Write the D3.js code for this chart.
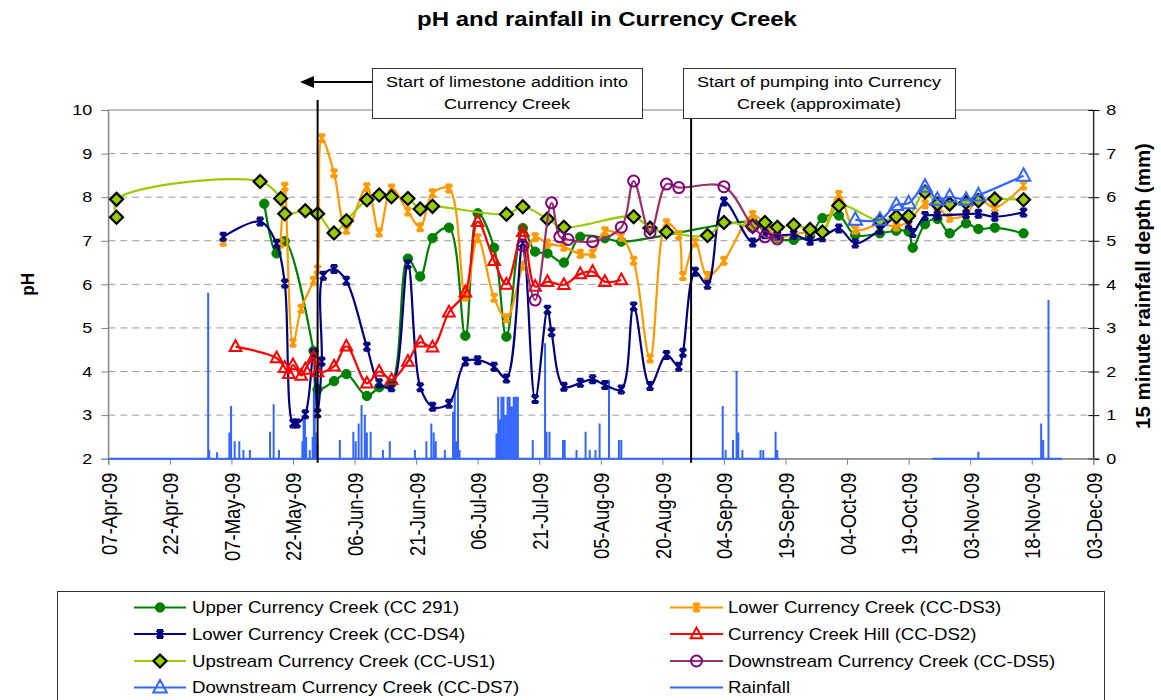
<!DOCTYPE html>
<html>
<head>
<meta charset="utf-8">
<script src="https://cdn.jsdelivr.net/npm/d3@7"></script>
<style>
  body { margin: 0; background: #fff; }
  svg text { font-family: "Liberation Sans", Arial, sans-serif; fill: #000; }
</style>
</head>
<body>
<svg id="chart" width="1161" height="700"></svg>
<script>
// ---- Axis ticks ----
const dateTicks = ["07-Apr-09","22-Apr-09","07-May-09","22-May-09","06-Jun-09","21-Jun-09","06-Jul-09",
  "21-Jul-09","05-Aug-09","20-Aug-09","04-Sep-09","19-Sep-09","04-Oct-09","19-Oct-09","03-Nov-09",
  "18-Nov-09","03-Dec-09"];
const phTicks = [2,3,4,5,6,7,8,9,10];
const rainTicks = [0,1,2,3,4,5,6,7,8];

// ---- pH series: [date, pH]; null marks a break in sampling ----
const upperCC291 = [
  ["2009-05-15",7.85],["2009-05-18",6.71],["2009-05-20",6.99],["2009-05-27",4.47],["2009-05-28",3.59],
  ["2009-06-01",3.78],["2009-06-04",3.94],["2009-06-09",3.44],["2009-06-12",3.64],["2009-06-15",3.72],
  ["2009-06-19",6.59],["2009-06-22",6.18],["2009-06-25",7.06],["2009-06-29",7.30],["2009-07-03",4.82],
  ["2009-07-06",7.63],["2009-07-10",6.84],["2009-07-13",4.80],["2009-07-17",7.29],["2009-07-20",6.75],
  ["2009-07-23",6.71],["2009-07-27",6.50],["2009-07-31",7.09],["2009-08-06",7.06],["2009-08-10",6.98],
  ["2009-09-11",7.44],["2009-09-14",7.32],["2009-09-17",7.06],["2009-09-21",7.02],["2009-09-25",7.12],
  ["2009-09-28",7.52],["2009-10-02",7.58],["2009-10-06",7.13],["2009-10-12",7.17],["2009-10-16",7.23],
  ["2009-10-19",7.21],["2009-10-20",6.84],["2009-10-23",7.38],["2009-10-26",7.50],["2009-10-29",7.17],
  ["2009-11-02",7.40],["2009-11-05",7.27],["2009-11-09",7.30],["2009-11-16",7.17]
];
const lowerDS3 = [
  ["2009-05-05",6.98],["2009-05-12",null],
  ["2009-05-19",6.94],["2009-05-20",8.24],["2009-05-22",4.66],["2009-05-24",5.44],["2009-05-27",6.08],
  ["2009-05-28",6.34],["2009-05-29",9.35],["2009-06-01",8.55],["2009-06-04",7.25],["2009-06-09",8.23],
  ["2009-06-12",7.19],["2009-06-15",8.20],["2009-06-19",7.67],["2009-06-22",7.31],["2009-06-25",8.09],
  ["2009-06-29",8.20],["2009-07-03",5.72],["2009-07-06",7.06],["2009-07-10",5.69],["2009-07-13",5.22],
  ["2009-07-17",6.43],["2009-07-20",7.08],["2009-07-23",6.94],["2009-07-27",6.86],["2009-07-31",6.70],
  ["2009-08-03",6.71],["2009-08-06",7.22],["2009-08-10",7.09],["2009-08-13",6.54],["2009-08-17",4.30],
  ["2009-08-21",7.40],["2009-08-24",7.13],["2009-08-25",6.19],["2009-08-28",6.96],["2009-08-31",6.19],
  ["2009-09-04",6.54],["2009-09-11",7.59],["2009-09-14",7.38],["2009-09-17",7.09],["2009-09-21",7.15],
  ["2009-09-25",7.20],["2009-09-28",7.21],["2009-10-02",8.05],["2009-10-06",7.25],["2009-10-12",7.38],
  ["2009-10-16",7.33],["2009-10-19",7.45],["2009-10-23",7.84],["2009-10-26",7.78],["2009-10-29",7.53],
  ["2009-11-02",7.60],["2009-11-05",7.97],["2009-11-09",7.76],["2009-11-16",8.27]
];
const lowerDS4 = [
  ["2009-05-05",7.09],["2009-05-14",7.44],["2009-05-18",6.93],["2009-05-20",6.02],["2009-05-22",2.81],
  ["2009-05-23",2.81],["2009-05-25",3.02],["2009-05-27",4.42],["2009-05-28",3.04],["2009-05-29T00:00",4.23],
  ["2009-05-29T09:00",6.20],["2009-06-01",6.35],["2009-06-04",6.08],["2009-06-09",4.57],["2009-06-12",3.73],
  ["2009-06-15",3.64],["2009-06-19",6.46],["2009-06-22",3.64],["2009-06-25",3.19],["2009-06-29",3.26],
  ["2009-07-03",4.23],["2009-07-06",4.26],["2009-07-10",4.11],["2009-07-13",3.84],["2009-07-17",6.94],
  ["2009-07-20",3.37],["2009-07-23",5.42],["2009-07-24",4.90],["2009-07-27",3.65],["2009-07-31",3.74],
  ["2009-08-03",3.82],["2009-08-06",3.69],["2009-08-10",3.59],["2009-08-13",5.49],["2009-08-17",3.67],
  ["2009-08-21",4.38],["2009-08-24",4.11],["2009-08-25",4.43],["2009-08-28",6.29],["2009-08-31",5.99],
  ["2009-09-04",7.90],["2009-09-11",6.96],["2009-09-14",7.15],["2009-09-17",7.12],["2009-09-21",7.14],
  ["2009-09-25",7.00],["2009-09-28",7.08],["2009-10-02",7.28],["2009-10-06",6.94],["2009-10-12",7.25],
  ["2009-10-16",7.55],["2009-10-19",7.38],["2009-10-20",7.18],["2009-10-23",7.57],["2009-10-26",7.58],
  ["2009-11-02",7.61],["2009-11-05",7.62],["2009-11-09",7.55],["2009-11-16",7.65]
];
const hillDS2 = [
  ["2009-05-08",4.57],["2009-05-18",4.31],["2009-05-20",4.09],["2009-05-21",3.95],["2009-05-22",4.15],
  ["2009-05-24",3.91],["2009-05-25",4.05],["2009-05-27",4.32],["2009-05-28",3.99],["2009-06-01",4.12],
  ["2009-06-04",4.58],["2009-06-09",3.73],["2009-06-12",4.00],["2009-06-15",3.81],["2009-06-19",4.23],
  ["2009-06-22",4.67],["2009-06-25",4.56],["2009-06-29",5.36],["2009-07-03",5.82],["2009-07-06",7.44],
  ["2009-07-10",6.54],["2009-07-13",6.00],["2009-07-17",7.21],["2009-07-20",5.95],["2009-07-23",6.06],
  ["2009-07-27",5.99],["2009-07-31",6.24],["2009-08-03",6.29],["2009-08-06",6.06],["2009-08-10",6.10]
];
const upstreamUS1 = [
  ["2009-04-09",7.54],["2009-04-09",7.95],["2009-05-14",8.36],["2009-05-19",7.97],["2009-05-20",7.62],
  ["2009-05-25",7.69],["2009-05-28",7.62],["2009-06-01",7.18],["2009-06-04",7.46],["2009-06-09",7.94],
  ["2009-06-12",8.05],["2009-06-15",8.01],["2009-06-19",7.97],["2009-06-22",7.73],["2009-06-25",7.79],
  ["2009-07-13",7.61],["2009-07-17",7.78],["2009-07-23",7.50],["2009-07-27",7.31],["2009-08-13",7.55],
  ["2009-08-17",7.29],["2009-08-21",7.20],["2009-08-31",7.12],["2009-09-04",7.42],["2009-09-11",7.33],
  ["2009-09-14",7.42],["2009-09-17",7.31],["2009-09-21",7.36],["2009-09-25",7.26],["2009-09-28",7.20],
  ["2009-10-02",7.81],["2009-10-12",7.45],["2009-10-16",7.55],["2009-10-19",7.57],["2009-10-23",8.12],
  ["2009-10-26",7.84],["2009-10-29",7.84],["2009-11-02",7.88],["2009-11-05",7.92],["2009-11-09",7.96],
  ["2009-11-16",7.94]
];
const downstreamDS5 = [
  ["2009-07-17",6.89],["2009-07-20",5.64],["2009-07-24",7.87],["2009-07-26",7.09],["2009-07-28",7.03],
  ["2009-08-03",6.98],["2009-08-10",7.31],["2009-08-13",8.37],["2009-08-17",7.19],["2009-08-21",8.30],
  ["2009-08-24",8.22],["2009-09-04",8.24],["2009-09-11",7.33],["2009-09-14",7.09],["2009-09-17",7.04]
];
const downstreamDS7 = [
  ["2009-10-06",7.48],["2009-10-12",7.48],["2009-10-16",7.82],["2009-10-19",7.86],["2009-10-23",8.24],
  ["2009-10-26",7.94],["2009-10-29",8.01],["2009-11-02",7.94],["2009-11-05",8.04],["2009-11-16",8.49]
];

// ---- 15 minute rainfall depth (mm): logged periods and non-zero readings ----
const rainCoverage = [["2009-04-07T00:00","2009-09-17T12:00"],["2009-10-24T19:00","2009-11-25T10:00"]];
const rainfall15min = [
  ["2009-05-01T08:00",3.81],["2009-05-01T14:00",0.20],["2009-05-03T12:00",0.15],["2009-05-06T12:00",0.60],
  ["2009-05-06T22:00",1.21],["2009-05-07T19:00",0.40],["2009-05-08T22:00",0.40],["2009-05-09T22:00",0.20],
  ["2009-05-11T12:00",0.20],["2009-05-16T10:00",0.62],["2009-05-17T07:00",1.25],["2009-05-18T14:00",0.20],
  ["2009-05-24T07:00",0.40],["2009-05-24T14:00",0.89],["2009-05-24T22:00",0.95],["2009-05-25T05:00",0.50],
  ["2009-05-26T02:00",0.20],["2009-05-26T19:00",0.50],["2009-05-27T02:00",1.60],["2009-05-27T07:00",2.26],
  ["2009-05-27T14:00",0.60],["2009-05-28T00:00",0.30],["2009-06-02T10:00",0.43],["2009-06-05T17:00",0.62],
  ["2009-06-06T07:00",0.40],["2009-06-07T00:00",0.81],["2009-06-07T17:00",1.23],["2009-06-08T12:00",1.00],
  ["2009-06-09T00:00",0.60],["2009-06-09T22:00",0.62],["2009-06-12T22:00",0.20],["2009-06-14T14:00",0.40],
  ["2009-06-20T17:00",0.20],["2009-06-23T12:00",0.40],["2009-06-24T17:00",0.81],["2009-06-25T07:00",0.60],
  ["2009-06-25T19:00",0.40],["2009-06-28T00:00",0.20],["2009-06-30T00:00",1.08],["2009-06-30T10:00",1.58],
  ["2009-06-30T19:00",0.40],["2009-07-01T05:00",1.81],["2009-07-01T14:00",0.20],["2009-07-10T14:00",0.58],
  ["2009-07-11T00:00",1.42],["2009-07-11T10:00",0.90],["2009-07-11T19:00",1.42],["2009-07-12T07:00",1.42],
  ["2009-07-12T19:00",1.00],["2009-07-13T07:00",1.42],["2009-07-13T19:00",1.42],["2009-07-14T07:00",1.20],
  ["2009-07-14T19:00",1.42],["2009-07-15T07:00",1.42],["2009-07-15T19:00",1.42],["2009-07-19T10:00",0.43],
  ["2009-07-22T10:00",2.65],["2009-07-22T19:00",0.62],["2009-07-23T12:00",0.62],["2009-07-26T19:00",0.43],
  ["2009-07-27T05:00",0.43],["2009-07-30T02:00",0.20],["2009-08-01T07:00",0.62],["2009-08-02T07:00",0.20],
  ["2009-08-03T17:00",0.20],["2009-08-04T17:00",0.81],["2009-08-07T00:00",1.81],["2009-08-09T10:00",0.43],
  ["2009-08-10T00:00",0.43],["2009-09-03T17:00",1.21],["2009-09-04T10:00",0.20],["2009-09-06T05:00",0.43],
  ["2009-09-07T02:00",2.01],["2009-09-07T12:00",0.60],["2009-09-08T12:00",0.20],["2009-09-12T22:00",0.20],
  ["2009-09-13T14:00",0.20],["2009-09-16T14:00",0.62],["2009-09-17T00:00",0.20],["2009-11-05T00:00",0.16],
  ["2009-11-20T07:00",0.81],["2009-11-20T19:00",0.43],["2009-11-22T02:00",3.64]
];

// ---- Events marked on the chart ----
const eventDates = ["2009-05-28","2009-08-27"];
const eventNotes = [
  ["Start of limestone addition into","Currency Creek"],
  ["Start of pumping into Currency","Creek (approximate)"]
];

// ---------------------------------------------------------------------------
const SX = 1.2; // lettering is drawn slightly wide
const parseDay = d3.timeParse("%Y-%m-%d");
const parseTime = d3.timeParse("%Y-%m-%dT%H:%M");
const toDate = s => parseDay(s) || parseTime(s);
const parseTick = d3.timeParse("%d-%b-%y");
const fmtTick = d3.timeFormat("%d-%b-%y");

const series = [
  {name:"Upper Currency Creek (CC 291)", data:upperCC291, color:"#008000", marker:"circle"},
  {name:"Lower Currency Creek (CC-DS3)", data:lowerDS3, color:"#FF9900", marker:"star"},
  {name:"Lower Currency Creek (CC-DS4)", data:lowerDS4, color:"#000080", marker:"star"},
  {name:"Currency Creek Hill (CC-DS2)", data:hillDS2, color:"#FF0000", marker:"triangle"},
  {name:"Upstream Currency Creek (CC-US1)", data:upstreamUS1, color:"#99CC00", marker:"diamond"},
  {name:"Downstream Currency Creek (CC-DS5)", data:downstreamDS5, color:"#993366", mcolor:"#800080", marker:"ocircle"},
  {name:"Downstream Currency Creek (CC-DS7)", data:downstreamDS7, color:"#3366FF", marker:"otriangle"}
];
const rainColor = "#3366FF";

const svg = d3.select("#chart");
const P = {left:108.3, right:1093.3, top:110, bottom:458.7};

const tickDates = dateTicks.map(parseTick);
const x = d3.scaleTime().domain([tickDates[0], tickDates[tickDates.length-1]]).range([P.left, P.right]);
const y = d3.scaleLinear().domain([phTicks[0], phTicks[phTicks.length-1]]).range([P.bottom, P.top]);
const yR = d3.scaleLinear().domain([rainTicks[0], rainTicks[rainTicks.length-1]]).range([P.bottom, P.top]);

function wideText(g, px, py, str, size, opts = {}) {
  const rot = opts.rotate ? " rotate(-90)" : "";
  const sx = opts.sx || SX;
  return g.append("text")
    .attr("transform", `translate(${px},${py}) scale(${sx},1)${rot}`)
    .attr("text-anchor", opts.anchor || "start")
    .attr("dy", opts.dy || 0)
    .style("font-size", size + "px")
    .style("font-weight", opts.bold ? "bold" : "normal")
    .text(str);
}

// Title
wideText(svg, 607, 26, "pH and rainfall in Currency Creek", 20, {anchor:"middle", bold:true});

// Gridlines
svg.append("g").selectAll("line")
  .data(phTicks.slice(1, -1))
  .join("line")
  .attr("x1", P.left).attr("x2", P.right)
  .attr("y1", d => y(d)).attr("y2", d => y(d))
  .attr("stroke", "#9a9a9a").attr("stroke-width", 1).attr("stroke-dasharray", "7,5");

// Plot frame
svg.append("rect")
  .attr("x", P.left).attr("y", P.top)
  .attr("width", P.right - P.left).attr("height", P.bottom - P.top)
  .attr("fill", "none").attr("stroke", "#808080").attr("stroke-width", 1);

// Left pH axis
const axL = svg.append("g").attr("transform", `translate(${P.left},0)`)
  .call(d3.axisLeft(y).tickValues(phTicks).tickSize(7).tickFormat(d3.format("d")));
axL.select(".domain").attr("stroke", "#808080");
axL.selectAll(".tick line").attr("stroke", "#808080");
axL.selectAll(".tick text")
  .attr("x", -16 / SX).attr("transform", `scale(${SX},1)`)
  .style("font-size", "15px").attr("font-family", null);

// Right rainfall axis
const axR = svg.append("g").attr("transform", `translate(${P.right},0)`)
  .call(d3.axisRight(yR).tickValues(rainTicks).tickSize(6).tickFormat(d3.format("d")));
axR.select(".domain").attr("stroke", "#000");
axR.selectAll(".tick line").attr("x1", -5).attr("stroke", "#000");
axR.selectAll(".tick text")
  .attr("x", 13 / SX).attr("transform", `scale(${SX},1)`)
  .style("font-size", "15px").attr("font-family", null);

// Date axis
const axB = svg.append("g").attr("transform", `translate(0,${P.bottom})`)
  .call(d3.axisBottom(x).tickValues(tickDates).tickSize(6).tickFormat(fmtTick));
axB.select(".domain").attr("stroke", "#808080");
axB.selectAll(".tick line").attr("stroke", "#808080");
axB.selectAll(".tick text")
  .attr("transform", `scale(${SX},1) rotate(-90)`)
  .attr("x", -14).attr("y", 0).attr("dy", "0.36em")
  .attr("text-anchor", "end")
  .style("font-size", "18.5px").attr("font-family", null);

// Axis titles
wideText(svg, 27, (P.top + P.bottom) / 2, "pH", 17, {anchor:"middle", bold:true, rotate:true, dy:"0.35em", sx:1.1});
wideText(svg, 1143, 286, "15 minute rainfall depth (mm)", 20.5,
  {anchor:"middle", bold:true, rotate:true, dy:"0.35em", sx:1.0});

// Rainfall trace: zero between readings, spikes at each reading
const rainPts = [];
rainCoverage.forEach(([a, b]) => {
  const t0 = toDate(a), t1 = toDate(b);
  rainPts.push({t:t0, v:0});
  rainfall15min.map(([s, v]) => ({t:toDate(s), v}))
    .filter(e => e.t >= t0 && e.t <= t1)
    .sort((p, q) => p.t - q.t)
    .forEach(e => rainPts.push({t:e.t, v:0}, {t:e.t, v:e.v}, {t:e.t, v:0}));
  rainPts.push({t:t1, v:0}, {t:t1, v:null});
});
svg.append("path")
  .datum(rainPts)
  .attr("fill", "none").attr("stroke", rainColor).attr("stroke-width", 2)
  .attr("stroke-linejoin", "bevel")
  .attr("d", d3.line().defined(d => d.v != null).x(d => x(d.t)).y(d => yR(d.v)));

// Markers
function marker(g, type, color) {
  if (type === "circle") {
    g.append("circle").attr("r", 4.7).attr("fill", color).attr("stroke", color).attr("stroke-width", 1);
  } else if (type === "ocircle") {
    g.append("circle").attr("r", 5.5).attr("fill", "none").attr("stroke", color).attr("stroke-width", 2);
  } else if (type === "star") {
    g.append("path").attr("d", "M-3.5,-3.5L3.5,3.5M-3.5,3.5L3.5,-3.5M0,-4.5L0,4.5M-3,-4L3,-4M-3,4L3,4")
      .attr("fill", "none").attr("stroke", color).attr("stroke-width", 2);
  } else if (type === "diamond") {
    g.append("path").attr("d", "M0,-6.5L6.5,0L0,6.5L-6.5,0Z")
      .attr("fill", color).attr("stroke", "#000").attr("stroke-width", 2.2);
  } else if (type === "triangle") {
    g.append("path").attr("d", "M0,-6.5L5.8,4.3L-5.8,4.3Z")
      .attr("fill", "none").attr("stroke", color).attr("stroke-width", 2);
  } else if (type === "otriangle") {
    g.append("path").attr("d", "M0,-7.5L6.8,5L-6.8,5Z")
      .attr("fill", "none").attr("stroke", color).attr("stroke-width", 2);
  }
}

const lineGen = d3.line()
  .defined(d => d.v != null)
  .x(d => x(d.t)).y(d => y(d.v))
  .curve(d3.curveCatmullRom.alpha(0.5));

series.forEach(s => {
  const pts = s.data.map(([t, v]) => ({t:toDate(t), v}));
  const g = svg.append("g");
  g.append("path").datum(pts)
    .attr("fill", "none").attr("stroke", s.color).attr("stroke-width", 2.2)
    .attr("d", lineGen);
  g.selectAll("g.m").data(pts.filter(d => d.v != null)).join("g")
    .attr("class", "m")
    .attr("transform", d => `translate(${x(d.t)},${y(d.v)})`)
    .each(function() { marker(d3.select(this), s.marker, s.mcolor || s.color); });
});

// Event lines and notes
const boxes = [{x0:372, x1:642}, {x0:683, x1:955}];
const boxTop = 68, boxBot = 118;
eventDates.forEach((ds, i) => {
  const ex = x(toDate(ds));
  svg.append("line")
    .attr("x1", ex).attr("x2", ex)
    .attr("y1", i === 0 ? 100 : boxBot).attr("y2", P.bottom + 4)
    .attr("stroke", "#000").attr("stroke-width", 2);
  const b = boxes[i];
  svg.append("rect")
    .attr("x", b.x0 + 0.5).attr("y", boxTop + 0.5)
    .attr("width", b.x1 - b.x0).attr("height", boxBot - boxTop)
    .attr("fill", "#fff").attr("stroke", "#333").attr("stroke-width", 1);
  const cx = (b.x0 + b.x1) / 2;
  wideText(svg, cx, 87, eventNotes[i][0], 15, {anchor:"middle"});
  wideText(svg, cx, 109, eventNotes[i][1], 15, {anchor:"middle"});
});
// arrow pointing back from the first note
svg.append("line").attr("x1", boxes[0].x0).attr("x2", 312).attr("y1", 82).attr("y2", 82)
  .attr("stroke", "#000").attr("stroke-width", 2);
svg.append("path").attr("d", "M300,82L314,76L314,88Z").attr("fill", "#000");

// Legend
const leg = svg.append("g");
leg.append("rect").attr("x", 57.5).attr("y", 591.5).attr("width", 1047).attr("height", 130)
  .attr("fill", "#fff").attr("stroke", "#333").attr("stroke-width", 1);
const legendItems = series.map(s => ({name:s.name, color:s.color, mcolor:s.mcolor || s.color, marker:s.marker}))
  .concat([{name:"Rainfall", color:rainColor, marker:null}]);
const rowsY = [607.5, 634, 661, 687.5];
const cols = [{lx0:134, lx1:186, tx:192}, {lx0:670, lx1:723, tx:728}];
legendItems.forEach((it, i) => {
  const c = cols[i % 2], ry = rowsY[Math.floor(i / 2)];
  leg.append("line").attr("x1", c.lx0).attr("x2", c.lx1).attr("y1", ry).attr("y2", ry)
    .attr("stroke", it.color).attr("stroke-width", 2.2);
  if (it.marker) {
    const mg = leg.append("g").attr("transform", `translate(${(c.lx0 + c.lx1) / 2},${ry})`);
    marker(mg, it.marker, it.mcolor);
  }
  wideText(leg, c.tx, ry, it.name, 15.8, {dy:"0.36em", sx:1.18});
});
</script>
</body>
</html>
